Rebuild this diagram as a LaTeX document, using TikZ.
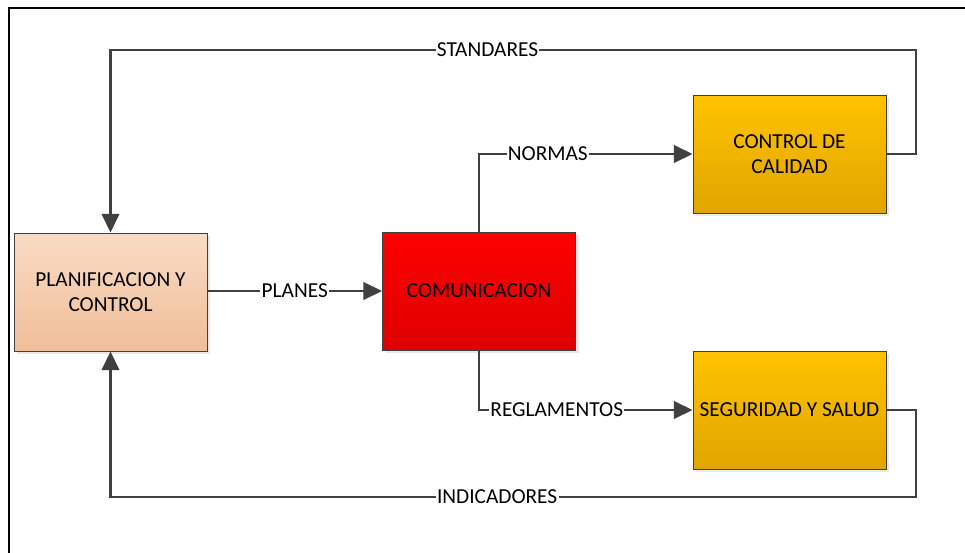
\documentclass[tikz,border=0pt]{standalone}
\usepackage{fontspec}
\setmainfont{Carlito}
\usetikzlibrary{arrows.meta,shadows}

\definecolor{linegray}{HTML}{404040}
\definecolor{peachtop}{HTML}{F9DBC5}
\definecolor{peachbot}{HTML}{F0BE98}
\definecolor{redtop}{HTML}{FF0000}
\definecolor{redbot}{HTML}{DE0000}
\definecolor{goldtop}{HTML}{FFC300}
\definecolor{goldbot}{HTML}{E0A500}

\begin{document}
\begin{tikzpicture}[x=0.75pt,y=-0.75pt,
    box/.style={draw=linegray,line width=0.6pt,minimum width=144.75pt,minimum height=88.5pt,
      align=center,font=\fontsize{16}{19}\selectfont,
      drop shadow={shadow xshift=2.5pt,shadow yshift=-2.5pt,fill=black!9,opacity=1}},
    link/.style={draw=linegray,line width=2pt,-{Triangle[length=14pt,width=13pt]}},
    tag/.style={fill=white,inner xsep=1pt,inner ysep=1pt,font=\fontsize{16}{19}\selectfont}]
  \useasboundingbox (0,0) rectangle (965,553);
  \draw[line width=2.2pt] (9,560) -- (9,8) -- (970,8);

  \node[box,top color=peachtop,bottom color=peachbot] (plan) at (110.5,292) {PLANIFICACION Y\\CONTROL};
  \node[box,top color=redtop,bottom color=redbot] (comun) at (479,291) {COMUNICACION};
  \node[box,top color=goldtop,bottom color=goldbot] (calidad) at (789.5,154) {CONTROL DE\\CALIDAD};
  \node[box,top color=goldtop,bottom color=goldbot] (segur) at (789.5,410) {SEGURIDAD Y SALUD};

  \draw[link] (plan.east |- comun.west) -- node[tag] {PLANES} (comun.west);
  \draw[link] (comun.north) |- node[tag,pos=0.661] {NORMAS} (calidad.west);
  \draw[link] (comun.south) |- node[tag,pos=0.682] {REGLAMENTOS} (segur.west);
  \draw[link] (calidad.east) -| (916,50) -| node[tag,pos=0.266] {STANDARES} (plan.north);
  \draw[link] (segur.east) -| (916,497) -| node[tag,pos=0.26] {INDICADORES} (plan.south);
\end{tikzpicture}
\end{document}
